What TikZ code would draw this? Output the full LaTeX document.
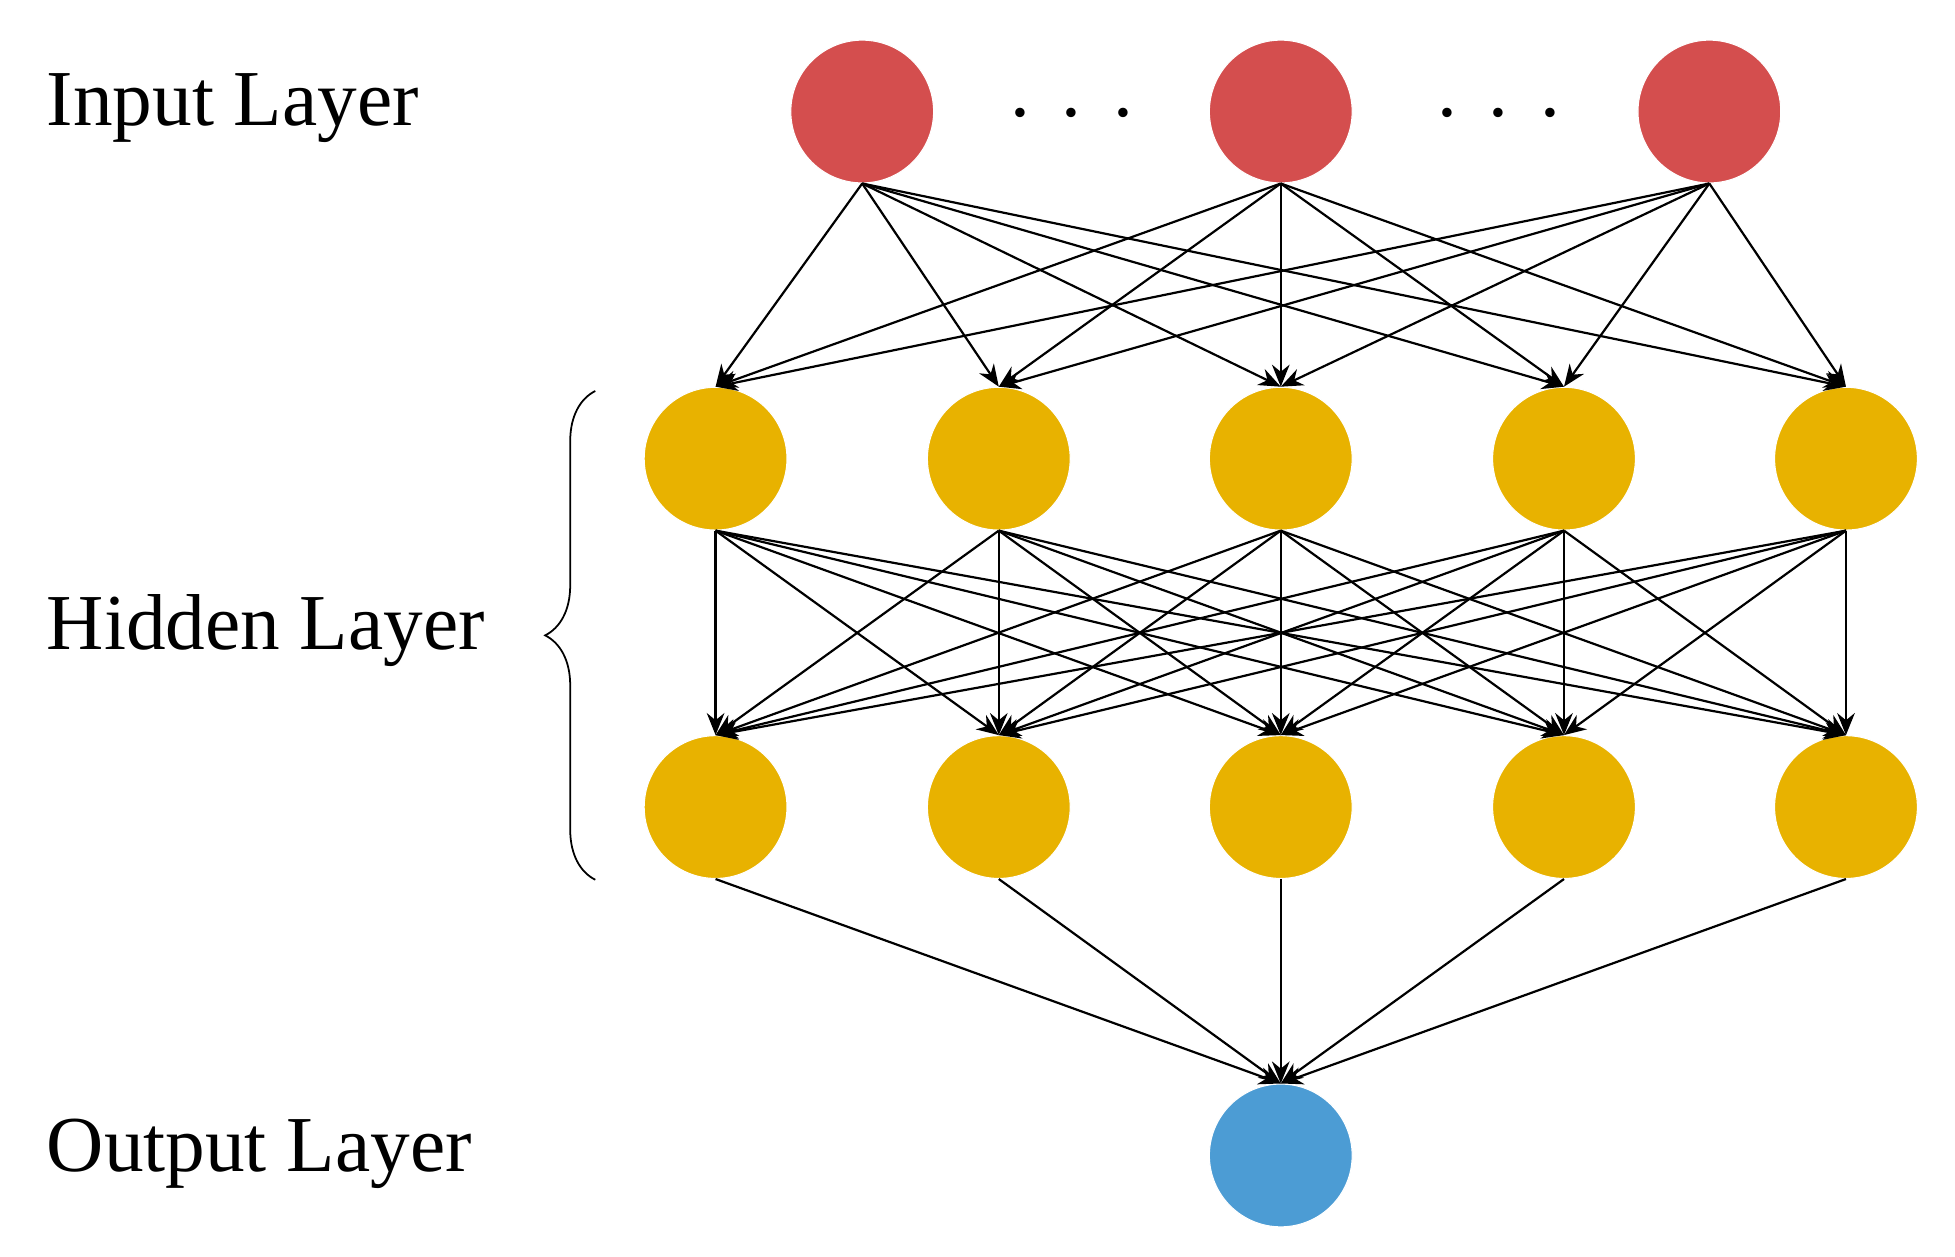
\documentclass[tikz,border=0pt]{standalone}
\usepackage{fontspec}
\setmainfont{Liberation Serif}
\usetikzlibrary{arrows.meta,decorations.pathreplacing}
\definecolor{inred}{HTML}{D44E4E}
\definecolor{hidy}{HTML}{E8B200}
\definecolor{outb}{HTML}{4C9CD4}
\begin{document}
\begin{tikzpicture}[x=0.02cm,y=-0.02cm,
  neuron/.style={circle,minimum size=2.28cm,inner sep=0pt,draw=white,line width=0.5pt},
  conn/.style={line width=1pt,-{Stealth[length=10pt,width=8pt]}},
  lbl/.style={anchor=base west,font=\fontsize{36}{40}\selectfont,inner sep=0pt}]
\useasboundingbox (0,0) rectangle (1560,1003);
\node[neuron,fill=inred] (i1) at (688,89) {};
\node[neuron,fill=inred] (i2) at (1022,89) {};
\node[neuron,fill=inred] (i3) at (1364,89) {};
\foreach \x [count=\k] in {571,797,1022,1248,1473}{
  \node[neuron,fill=hidy] (a\k) at (\x,366) {};
  \node[neuron,fill=hidy] (b\k) at (\x,644) {};
}
\node[neuron,fill=outb] (o) at (1022,922) {};
\node[font=\fontsize{36}{40}\selectfont] (d1) at (855,90) {.\hspace{0.4em}.\hspace{0.4em}.};
\node[font=\fontsize{36}{40}\selectfont] (d2) at (1196,90) {.\hspace{0.4em}.\hspace{0.4em}.};
\foreach \i in {1,2,3}{\foreach \j in {1,...,5}{\draw[conn] (i\i.south) -- (a\j.north);}}
\foreach \i in {1,...,5}{\foreach \j in {1,...,5}{\draw[conn] (a\i.south) -- (b\j.north);}}
\foreach \i in {1,...,5}{\draw[conn] (b\i.south) -- (o.north);}
\node[lbl] (t1) at (37,100) {Input Layer};
\node[lbl] (t2) at (37,518) {Hidden Layer};
\node[lbl] (t3) at (37,935) {Output Layer};
\coordinate (bt) at (475,312);
\coordinate (bb) at (475,702);
\draw[line width=0.8pt,decorate,decoration={brace,amplitude=0.8cm}] (bb) -- (bt);
\end{tikzpicture}
\end{document}
